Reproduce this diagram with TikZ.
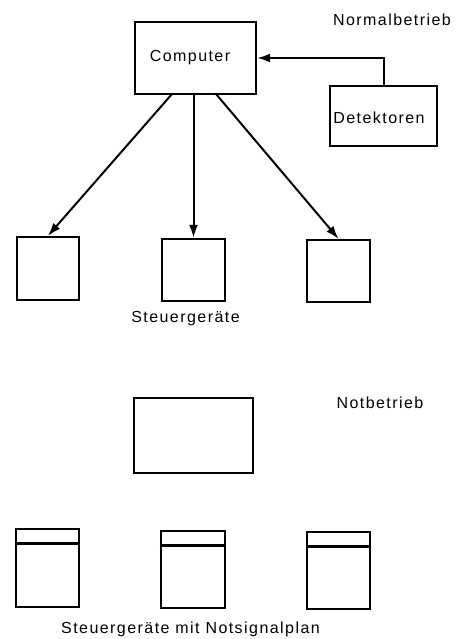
\documentclass[tikz,border=0pt]{standalone}
\usepackage{fontspec}
\setmainfont[LetterSpace=9]{Liberation Sans}
\usetikzlibrary{arrows.meta}
\tikzset{
  box/.style={draw, line width=2.4pt, inner sep=0pt},
  lbl/.style={inner sep=0pt, font=\fontsize{16}{19}\selectfont},
  conn/.style={line width=2pt, -{Latex[length=13pt,width=9pt]}},
}
\begin{document}
\begin{tikzpicture}[x=1pt,y=-1pt]
\useasboundingbox (0,0) rectangle (467,639);
% Normalbetrieb
\node[lbl] (tnorm) at (392,20) {Normalbetrieb};
\node[box, minimum width=121pt, minimum height=72pt] (comp) at (195.5,58) {};
\node[lbl] (tcomp) at (190,58) {Computer};
\node[box, minimum width=107pt, minimum height=60pt] (det) at (383.5,116) {};
\node[lbl] (tdet) at (379,118) {Detektoren};
\node[box, minimum width=62pt, minimum height=63pt] (s1) at (48,268.5) {};
\node[box, minimum width=63pt, minimum height=62pt] (s2) at (193.5,270) {};
\node[box, minimum width=63pt, minimum height=62pt] (s3) at (338.5,271) {};
\node[lbl] (tsteuer) at (185.5,319) {Steuergeräte};
\coordinate (c1) at (172,94);
\coordinate (c3) at (216,94);
\draw[conn] (c1) -- (s1.north);
\draw[conn] (comp.south -| s2.north) -- (s2.north);
\draw[conn] (c3) -- (s3.north);
\draw[conn] (det.north) |- (comp.east);
% Notbetrieb
\node[lbl] (tnot) at (380,403) {Notbetrieb};
\node[box, minimum width=119pt, minimum height=75pt] (ncomp) at (193.5,435.5) {};
\node[box, minimum width=63pt, minimum height=78pt] (n1) at (47.5,568) {};
\node[box, minimum width=64pt, minimum height=77pt] (n2) at (193,569.5) {};
\node[box, minimum width=63pt, minimum height=77pt] (n3) at (338.5,570.5) {};
\foreach \n in {n1,n2,n3}{
  \draw[line width=2.4pt] ([yshift=-15.5pt]\n.north west) -- ([yshift=-15.5pt]\n.north east);
}
\node[lbl] (tnotsig) at (190.5,629) {Steuergeräte mit Notsignalplan};
\end{tikzpicture}
\end{document}
